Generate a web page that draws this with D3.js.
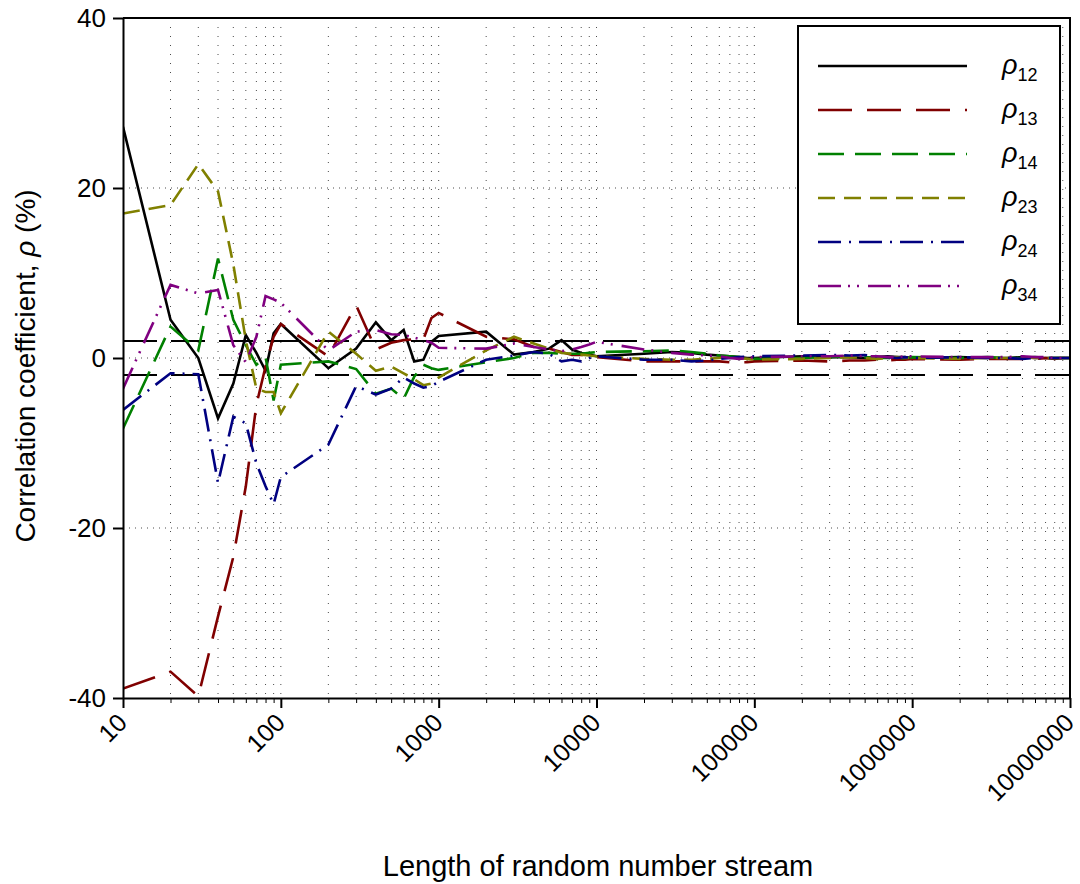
<!DOCTYPE html>
<html>
<head>
<meta charset="utf-8">
<script src="https://cdn.jsdelivr.net/npm/d3@7"></script>
<style>
  html, body { margin: 0; padding: 0; background: #fff; }
  svg { display: block; font-family: "Liberation Sans", Arial, sans-serif; }
</style>
</head>
<body>
<svg id="chart" width="1080" height="884"></svg>
<script>
// Length of the random number stream (x values)
const streamLength = [
  10, 20, 30, 40, 50, 60, 70, 80, 90,
  100, 200, 300, 400, 500, 600, 700, 800, 900,
  1000, 2000, 3000, 4000, 5000, 6000, 7000, 8000, 9000,
  10000, 20000, 30000, 40000, 50000, 60000, 70000, 80000, 90000,
  100000, 200000, 300000, 400000, 500000, 600000, 700000, 800000, 900000,
  1000000, 2000000, 3000000, 4000000, 5000000, 6000000, 7000000, 8000000, 9000000,
  10000000
];

// Correlation coefficients in percent
const rho12 = [
  27.2, 4.5, 0.0, -7.1, -3.0, 2.7, 0.6, -1.5, 2.9,
  4.0, -1.2, 1.1, 4.2, 2.1, 3.3, -0.4, -0.2, 1.9,
  2.6, 3.1, 0.4, 0.7, 1.1, 2.1, 1.0, 0.6, 0.4,
  0.2, 0.5, 0.7, 0.6, 0.4, 0.3, 0.2, 0.1, 0.0,
  0.0, 0.2, 0.1, 0.1, 0.0, 0.1, 0.2, 0.1, 0.1,
  0.0, 0.1, 0.0, 0.0, 0.1, 0.0, 0.0, 0.0, 0.0,
  0.0
];
const rho13 = [
  -38.9, -36.9, -39.8, -30.4, -23.4, -15.1, -5.5, -1.0, 2.5,
  4.0, 0.2, 6.2, 1.0, 1.8, 2.1, 2.2, 2.2, 4.7,
  5.3, 2.5, 2.2, 1.3, 1.1, 0.7, 0.35, 0.35, 0.2,
  0.1, -0.4, -0.4, -0.4, -0.4, -0.4, -0.5, -0.5, -0.5,
  -0.4, -0.3, -0.4, -0.3, -0.3, -0.2, -0.3, -0.2, -0.2,
  -0.1, -0.2, -0.1, -0.1, -0.1, -0.1, 0.0, -0.1, 0.0,
  0.0
];
const rho14 = [
  -8.3, 3.7, 0.9, 11.7, 4.5, 1.5, -0.8, 0.1, -5.0,
  -0.8, -0.4, -1.3, -4.2, -3.6, -4.8, -2.2, -0.8, -1.2,
  -1.4, -0.5, 0.0, 0.6, 0.6, 0.5, 0.5, 0.5, 0.6,
  0.7, 0.8, 0.9, 0.7, 0.5, 0.3, 0.2, 0.1, 0.0,
  -0.1, 0.0, 0.1, 0.2, 0.1, 0.0, 0.0, -0.1, 0.0,
  0.1, 0.0, 0.1, 0.0, 0.0, 0.1, 0.0, 0.0, 0.0,
  0.0
];
const rho23 = [
  17.0, 18.0, 22.8, 19.6, 11.0, 2.1, -3.6, -4.0, -4.0,
  -6.5, 3.1, 0.5, -1.5, -1.0, -1.8, -2.5, -3.2, -3.0,
  -2.3, 0.9, 2.5, 1.7, 1.1, 0.6, 0.5, 0.4, 0.3,
  0.2, -0.1, -0.2, -0.2, -0.1, 0.0, 0.1, 0.0, -0.1,
  -0.2, -0.1, 0.0, 0.1, 0.0, -0.1, 0.0, 0.1, 0.0,
  0.0, -0.1, 0.0, 0.0, 0.1, 0.0, 0.0, 0.0, 0.0,
  0.0
];
const rho24 = [
  -6.1, -1.8, -1.9, -14.7, -6.9, -7.7, -12.4, -15.1, -17.2,
  -14.0, -10.2, -3.3, -4.3, -3.6, -2.3, -3.0, -3.5, -3.3,
  -2.8, -0.2, 0.3, 0.7, 0.5, -0.4, -0.2, -0.4, 0.0,
  0.2, -0.2, -0.2, -0.4, -0.3, -0.1, 0.0, 0.1, 0.15,
  0.2, 0.3, 0.35, 0.3, 0.35, 0.2, 0.1, 0.0, 0.1,
  0.0, 0.1, 0.0, 0.0, -0.1, 0.0, 0.0, 0.0, 0.0,
  0.0
];
const rho34 = [
  -3.6, 8.6, 7.6, 8.0, 1.5, -0.5, 2.5, 7.3, 6.9,
  6.5, 0.9, 3.1, 3.3, 2.8, 2.7, 2.4, 2.1, 1.8,
  1.2, 1.1, 1.7, 1.3, 1.0, 0.8, 1.0, 1.3, 1.6,
  1.9, 1.0, 0.6, 0.4, 0.3, 0.2, 0.0, -0.1, 0.0,
  0.1, 0.2, 0.2, 0.3, 0.2, 0.2, 0.1, 0.1, 0.2,
  0.2, 0.1, 0.1, 0.1, 0.2, 0.1, 0.1, 0.0, 0.0,
  0.0
];

const seriesSubscripts = ["12", "13", "14", "23", "24", "34"];
const seriesColors = ["#000000", "#800000", "#008000", "#808000", "#000080", "#800080"];
const seriesDashes = ["none", "34,15", "26,11", "17,9", "23,8,2,8", "23,7,2,7,2,9"];

const xTickValues = [10, 100, 1000, 10000, 100000, 1000000, 10000000];
const xTickLabels = ["10", "100", "1000", "10000", "100000", "1000000", "10000000"];
const yTickValues = [-40, -20, 0, 20, 40];
const yTickLabels = ["-40", "-20", "0", "20", "40"];
const yGridValues = [-20, 0, 20];
const limitLines = [2, -2];

const xTitle = "Length of random number stream";

// ---------------------------------------------------------------
const svg = d3.select("#chart");
const plotLeft = 123, plotRight = 1070, plotTop = 18, plotBottom = 698;

const x = d3.scaleLog().domain([10, 10000000]).range([plotLeft, plotRight]);
const y = d3.scaleLinear().domain([-40, 40]).range([plotBottom, plotTop]);

const series = [rho12, rho13, rho14, rho23, rho24, rho34].map((vals, i) => ({
  sub: seriesSubscripts[i],
  color: seriesColors[i],
  dash: seriesDashes[i],
  points: streamLength.map((n, j) => ({ n: n, v: vals[j] }))
}));

svg.append("defs").append("clipPath").attr("id", "plotClip")
  .append("rect").attr("x", plotLeft).attr("y", plotTop - 2)
  .attr("width", plotRight - plotLeft).attr("height", plotBottom - plotTop + 4);

// dotted grid: every stream length inside the range, and y = -20, 0, 20
const gridX = streamLength.filter(n => n > 10 && n < 10000000);
svg.append("g").selectAll("line").data(gridX).join("line")
  .attr("x1", d => x(d)).attr("x2", d => x(d))
  .attr("y1", plotTop).attr("y2", plotBottom)
  .attr("stroke", "#000").attr("stroke-width", 1)
  .attr("stroke-dasharray", "1,8").attr("opacity", 0.7);
svg.append("g").selectAll("line").data(yGridValues).join("line")
  .attr("x1", plotLeft).attr("x2", plotRight)
  .attr("y1", d => y(d)).attr("y2", d => y(d))
  .attr("stroke", "#000").attr("stroke-width", 1)
  .attr("stroke-dasharray", "1,5").attr("opacity", 0.7);

// +/-2 % limit lines
svg.append("g").selectAll("line").data(limitLines).join("line")
  .attr("x1", plotLeft).attr("x2", plotRight)
  .attr("y1", d => y(d)).attr("y2", d => y(d))
  .attr("stroke", "#000").attr("stroke-width", 2)
  .attr("stroke-dasharray", "34,14");

// data lines
const line = d3.line().x(d => x(d.n)).y(d => y(d.v));
svg.append("g").attr("clip-path", "url(#plotClip)")
  .selectAll("path").data(series).join("path")
  .attr("d", d => line(d.points))
  .attr("fill", "none")
  .attr("stroke", d => d.color)
  .attr("stroke-width", 2.6)
  .attr("stroke-linejoin", "miter")
  .attr("stroke-dasharray", d => d.dash === "none" ? null : d.dash);

// frame (top and right)
svg.append("path")
  .attr("d", `M${plotLeft},${plotTop}H${plotRight}V${plotBottom}`)
  .attr("fill", "none").attr("stroke", "#000").attr("stroke-width", 2);

// x axis: minor and major ticks
svg.append("g").attr("transform", `translate(0,${plotBottom})`)
  .call(d3.axisBottom(x).tickValues(gridX.filter(n => !xTickValues.includes(n)))
    .tickSize(5).tickFormat(""))
  .call(g => g.select(".domain").remove())
  .call(g => g.selectAll("line").attr("stroke-width", 1));

const xAxis = svg.append("g").attr("transform", `translate(0,${plotBottom})`)
  .call(d3.axisBottom(x).tickValues(xTickValues).tickSize(10).tickSizeOuter(0)
    .tickFormat((d, i) => xTickLabels[i]));
xAxis.select(".domain").attr("stroke-width", 2);
xAxis.selectAll(".tick line").attr("stroke-width", 2);
xAxis.selectAll(".tick text")
  .attr("x", 0).attr("y", 0).attr("dy", "0.35em")
  .attr("transform", "translate(-1,20) rotate(-45)")
  .attr("text-anchor", "end")
  .attr("font-size", 25).attr("font-family", "Liberation Sans, Arial, sans-serif")
  .attr("fill", "#000");

// y axis
const yAxis = svg.append("g").attr("transform", `translate(${plotLeft},0)`)
  .call(d3.axisLeft(y).tickValues(yTickValues).tickSize(10).tickSizeOuter(0).tickPadding(7)
    .tickFormat((d, i) => yTickLabels[i]));
yAxis.select(".domain").attr("stroke-width", 2);
yAxis.selectAll(".tick line").attr("stroke-width", 2);
yAxis.selectAll(".tick text")
  .attr("font-size", 26).attr("font-family", "Liberation Sans, Arial, sans-serif")
  .attr("fill", "#000");

// axis titles
svg.append("text")
  .attr("x", 598).attr("y", 876)
  .attr("text-anchor", "middle").attr("font-size", 29)
  .text(xTitle);

const yTitle = svg.append("text")
  .attr("transform", "translate(35,366) rotate(-90)")
  .attr("text-anchor", "middle").attr("font-size", 28);
yTitle.append("tspan").text("Correlation coefficient, ");
yTitle.append("tspan").attr("font-style", "italic").text("\u03C1");
yTitle.append("tspan").text(" (%)");

// legend
const legend = svg.append("g");
legend.append("rect")
  .attr("x", 798).attr("y", 26).attr("width", 262).attr("height", 298)
  .attr("fill", "#fff").attr("stroke", "#000").attr("stroke-width", 2);

const rowY = d3.scalePoint().domain(seriesSubscripts).range([66, 286]);
const rows = legend.selectAll("g.row").data(series).join("g").attr("class", "row")
  .attr("transform", d => `translate(0,${rowY(d.sub)})`);
rows.append("line")
  .attr("x1", 818).attr("x2", 967).attr("y1", 0).attr("y2", 0)
  .attr("stroke", d => d.color).attr("stroke-width", 2.6)
  .attr("stroke-dasharray", d => d.dash === "none" ? null : d.dash);
const lbl = rows.append("text").attr("x", 1002).attr("y", 8);
lbl.append("tspan").attr("font-style", "italic").attr("font-size", 27).text("\u03C1");
lbl.append("tspan").attr("font-size", 18).attr("dy", 7).text(d => d.sub);
</script>
</body>
</html>
